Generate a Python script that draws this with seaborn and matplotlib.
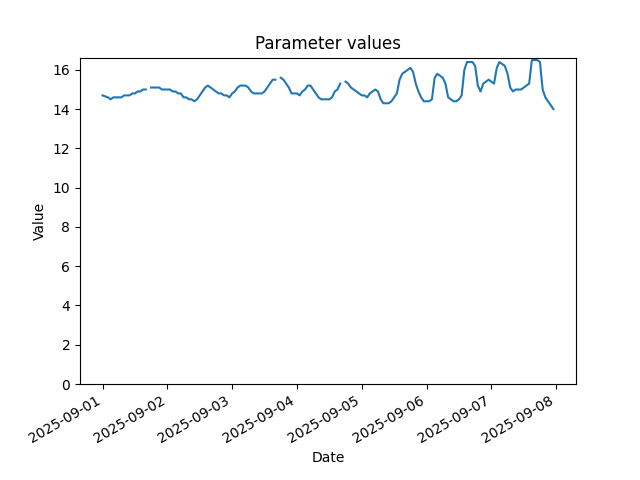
import numpy as np
import pandas as pd
import matplotlib
matplotlib.use("Agg")
import matplotlib.pyplot as plt
import seaborn as sns

nan = np.nan

# hourly readings, 2025-09-01 00:00 .. 2025-09-07 23:00
values = [
    # 09-01
    14.7, 14.65, 14.6, 14.5, 14.6, 14.6, 14.6, 14.6, 14.7, 14.7, 14.7, 14.8,
    14.8, 14.9, 14.9, 15.0, 15.0, nan, 15.1, 15.1, 15.1, 15.1, 15.0, 15.0,
    # 09-02
    15.0, 15.0, 14.9, 14.9, 14.8, 14.8, 14.6, 14.6, 14.5, 14.5, 14.4, 14.5,
    14.7, 14.9, 15.1, 15.2, 15.1, 15.0, 14.9, 14.8, 14.8, 14.7, 14.7, 14.6,
    # 09-03
    14.8, 14.9, 15.1, 15.2, 15.2, 15.2, 15.1, 14.9, 14.8, 14.8, 14.8, 14.8,
    14.9, 15.1, 15.3, 15.5, 15.5, nan, 15.6, 15.5, 15.3, 15.1, 14.8, 14.8,
    # 09-04
    14.8, 14.7, 14.9, 15.0, 15.2, 15.2, 15.0, 14.8, 14.6, 14.5, 14.5, 14.5,
    14.5, 14.6, 14.9, 15.0, 15.3, nan, 15.4, 15.3, 15.1, 15.0, 14.9, 14.8,
    # 09-05
    14.7, 14.7, 14.6, 14.8, 14.9, 15.0, 14.9, 14.5, 14.3, 14.3, 14.3, 14.4,
    14.6, 14.8, 15.5, 15.8, 15.9, 16.0, 16.1, 15.9, 15.3, 14.9, 14.6, 14.4,
    # 09-06
    14.4, 14.4, 14.5, 15.6, 15.8, 15.7, 15.6, 15.3, 14.6, 14.5, 14.4, 14.4,
    14.5, 14.7, 16.0, 16.4, 16.4, 16.4, 16.2, 15.2, 14.9, 15.3, 15.4, 15.5,
    # 09-07
    15.4, 15.3, 16.1, 16.4, 16.3, 16.2, 15.8, 15.1, 14.9, 15.0, 15.0, 15.0,
    15.1, 15.2, 15.3, 16.5, 16.5, 16.5, 16.4, 15.0, 14.6, 14.4, 14.2, 14.0,
]
dates = pd.date_range("2025-09-01 00:00", periods=len(values), freq="h")

df = pd.DataFrame({"Date": dates, "Value": values})
# missing readings split the line into separate pieces
df["segment"] = df["Value"].isna().cumsum()
df = df.dropna()

fig, ax = plt.subplots(figsize=(6.4, 4.8))
sns.lineplot(data=df, x="Date", y="Value", units="segment", estimator=None,
             color="#1f77b4", ax=ax)
ax.set_ylim(bottom=0)
ax.set_title("Parameter values")
ax.set_xlabel("Date")
ax.set_ylabel("Value")
fig.autofmt_xdate()
fig.savefig("out.png", dpi=100)
